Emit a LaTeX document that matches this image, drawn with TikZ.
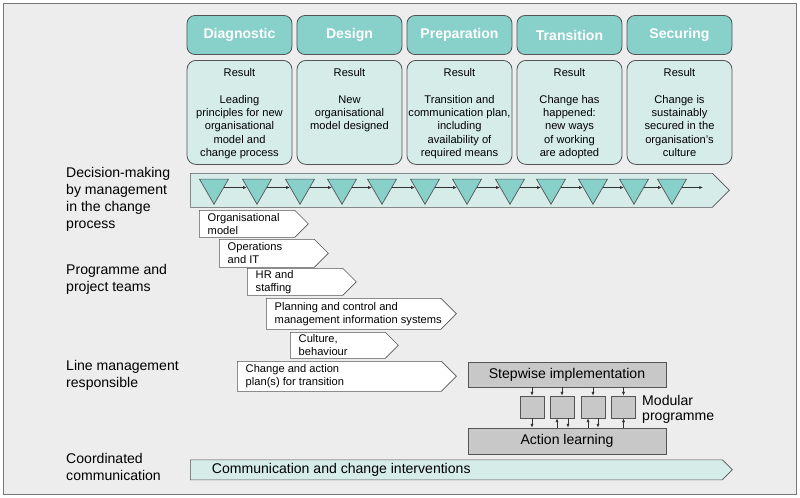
\documentclass[tikz,border=0pt]{standalone}
\usepackage{fontspec}
\setmainfont{Liberation Sans}
\usepackage{xcolor}
\usetikzlibrary{arrows.meta,shapes.geometric,shapes.symbols,positioning}
\definecolor{phaseteal}{HTML}{88D0CA}
\definecolor{paleteal}{HTML}{D5ECE9}
\definecolor{panelgray}{HTML}{EDEDED}
\definecolor{boxgray}{HTML}{C8C8C8}
\definecolor{edgegray}{HTML}{555555}
\definecolor{framegray}{HTML}{777777}

\begin{document}
\begin{tikzpicture}[x=0.03cm,y=-0.03cm,>=Latex,
  phase/.style={rounded corners=0.24cm,fill=phaseteal,draw=edgegray,line width=0.7pt,
    minimum width=3.15cm,minimum height=1.17cm,inner sep=0pt,text=white,
    font=\bfseries\fontsize{12}{14}\selectfont},
  result/.style={rounded corners=0.27cm,fill=paleteal,draw=edgegray,line width=0.7pt,
    minimum width=3.15cm,minimum height=3.12cm,inner sep=0pt,anchor=north},
  resulttext/.style={align=center,inner sep=0pt,anchor=north,font=\fontsize{9.5}{11.35}\selectfont},
  stream/.style={signal,signal to=east,signal pointer angle=90,draw=edgegray,line width=0.6pt,
    fill=white,inner sep=0pt,anchor=north west},
  streamtext/.style={align=left,inner sep=0pt,anchor=west,font=\fontsize{9.5}{11.35}\selectfont},
  gate/.style={regular polygon,regular polygon sides=3,shape border rotate=180,
    minimum size=1.005cm,inner sep=0pt,fill=phaseteal,draw=edgegray,line width=0.6pt},
  flow/.style={-{Latex[length=3.2pt,width=2.6pt]},line width=0.5pt,draw=black!80},
  rowlabel/.style={align=left,inner sep=0pt,anchor=west,font=\fontsize{12}{14.5}\selectfont},
  graybox/.style={fill=boxgray,draw=edgegray,line width=0.6pt,inner sep=0pt,
    font=\fontsize{12}{14}\selectfont}]
\useasboundingbox (0,0) rectangle (800,498);
\draw[fill=panelgray,draw=framegray,line width=0.8pt] (3,3) rectangle (796,494);

\foreach \x/\t [count=\i] in {239.5/Diagnostic,349.5/Design,459.5/Preparation,569.5/Transition,679.5/Securing}
  \node[phase] (p\i) at (\x,35) {\t};

\foreach \x/\t [count=\i] in {239.5/{Leading\\principles for new\\organisational\\model and\\change process},
    349.5/{New\\organisational\\model designed},
    459.5/{Transition and\\communication plan,\\including\\availability of\\required means},
    569.5/{Change has\\happened:\\new ways\\of working\\are adopted},
    679.5/{Change is\\sustainably\\secured in the\\organisation's\\culture}}{
  \node[result] (r\i) at (\x,60) {};
  \node[resulttext] at ([yshift=-0.25cm]r\i.north) {Result\\[11.35pt]\t};
}

\node[stream,fill=paleteal,minimum width=16.17cm,minimum height=1.02cm] (decide) at (190,173) {};
\foreach \x [count=\i] in {214,257,300,342,382,425,467,510,551,593,634,672}
  \node[gate] (t\i) at (\x,187.5) {};
\foreach \i [evaluate=\i as \j using int(\i+1)] in {1,...,11}
  \draw[flow] (t\i.east) -- (t\j.west);
\coordinate (flowend) at (703,187.5);
\draw[flow] (t12.east) -- (flowend);

\foreach \x/\y/\w/\h/\t [count=\i] in {199/210/3.27/0.81/{Organisational\\model},
    219/239/3.27/0.84/{Operations\\and IT},
    247/268/3.27/0.81/{HR and\\staffing},
    266/298/5.70/0.93/{Planning and control and\\management information systems},
    290/332/3.24/0.78/{Culture,\\behaviour},
    237/361/6.57/0.90/{Change and action\\plan(s) for transition}}{
  \node[stream,minimum width=\w cm,minimum height=\h cm] (b\i) at (\x,\y) {};
  \node[streamtext] at ([xshift=0.255cm]b\i.west) {\t};
}

\node[rowlabel] (lbl1) at (66,199) {Decision-making\\by management\\in the change\\process};
\node[rowlabel] (lbl2) at (66,279) {Programme and\\project teams};
\node[rowlabel] (lbl3) at (66,375) {Line management\\responsible};
\node[rowlabel] (lbl4) at (66,467) {Coordinated\\communication};

\node[graybox,minimum width=5.94cm,minimum height=0.75cm] (stepwise) at (567,374.5) {Stepwise implementation};
\node[graybox,minimum width=5.94cm,minimum height=0.78cm] (learning) at (567,441) {Action learning};
\foreach \x [count=\i] in {532,562,593,623.5}{
  \node[graybox,minimum width=0.72cm,minimum height=0.66cm] (m\i) at (\x,407) {};
  \draw[flow] (m\i.north |- stepwise.south) -- (m\i.north);
}
\draw[flow] (m1.south) -- (m1.south |- learning.north);
\draw[flow] ([xshift=-0.15cm]m2.south |- learning.north) -- ([xshift=-0.15cm]m2.south);
\draw[flow] ([xshift=0.18cm]m2.south) -- ([xshift=0.18cm]m2.south |- learning.north);
\draw[flow] ([xshift=-0.15cm]m3.south |- learning.north) -- ([xshift=-0.15cm]m3.south);
\draw[flow] ([xshift=0.15cm]m3.south) -- ([xshift=0.15cm]m3.south |- learning.north);
\draw[flow] (m4.south |- learning.north) -- (m4.south);
\node[align=left,inner sep=0pt,anchor=west,font=\fontsize{12}{12.8}\selectfont] (modular) at (642,409.5) {Modular\\programme};

\node[stream,fill=paleteal,minimum width=16.26cm,minimum height=0.6cm] (comm) at (190,459.5) {};
\node[anchor=west,inner sep=0pt,font=\fontsize{12}{14}\selectfont] at ([xshift=0.65cm]comm.west) {Communication and change interventions};
\end{tikzpicture}
\end{document}
